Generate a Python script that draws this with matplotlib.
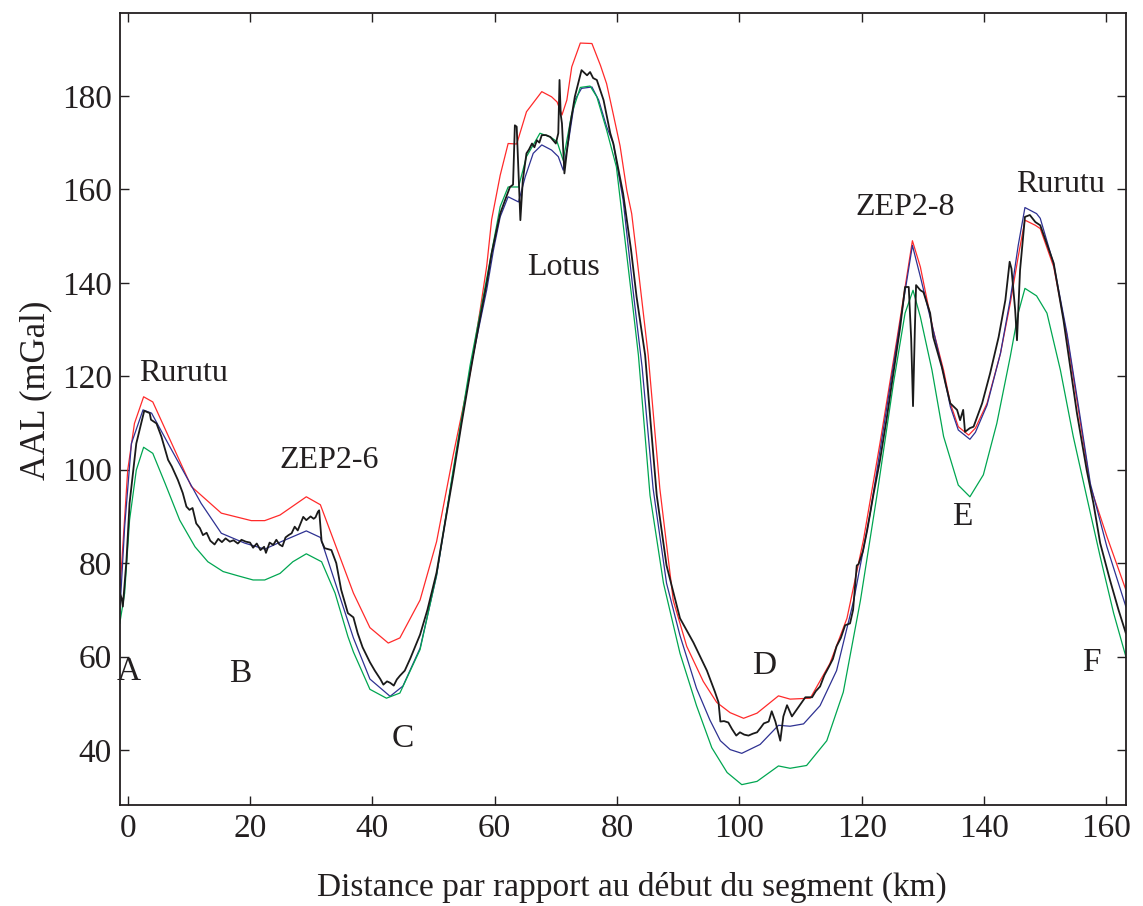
import matplotlib
matplotlib.use("Agg")
import matplotlib.pyplot as plt

plt.rcParams['font.family'] = ['Liberation Serif', 'DejaVu Serif']

# -------------------------------------------------------
# DATA
# -------------------------------------------------------

red_x = [-1.3, 0.0, 1.1, 2.6, 4.1, 10.4, 15.3, 20.2, 22.4, 24.9, 29.2, 31.5,
         36.9, 39.6, 42.6, 44.5, 47.8, 50.5, 53.2, 56.0, 57.6, 58.7, 59.5,
         60.9, 62.2, 63.6, 65.2, 67.7, 69.3, 70.2, 71.0, 71.8, 72.6, 74.0,
         75.9, 77.3, 78.3, 79.4, 80.5, 81.6, 82.4, 83.2, 85.1, 87.0, 89.2,
         91.4, 94.1, 96.3, 98.5, 100.7, 102.9, 106.4, 108.3, 111.6, 114.8,
         117.6, 120.3, 123.0, 125.8, 128.3, 129.6, 130.7, 131.7, 133.4, 134.5,
         135.8, 137.5, 138.6, 140.5, 142.7, 144.3, 145.6, 146.7, 148.4, 149.2,
         151.4, 153.6, 155.7, 157.4, 160.1, 163.2]
red_y = [73.5, 99.9, 109.9, 115.6, 114.5, 96.4, 90.7, 89.1, 89.1, 90.3, 94.2, 92.5,
         73.6, 66.2, 62.9, 64.0, 72.1, 84.6, 103.0, 120.7, 134.0, 143.6, 153.5,
         163.0, 169.8, 169.7, 176.6, 180.9, 179.8, 178.7, 175.9, 179.1, 186.2, 191.3,
         191.2, 186.5, 182.6, 176.0, 169.3, 159.8, 154.8, 146.0, 124.5, 96.0, 72.0,
         62.2, 54.7, 50.2, 48.0, 46.8, 47.9, 51.6, 50.9, 51.1, 58.5,
         68.2, 85.0, 105.7, 128.2, 149.0, 143.4, 136.3, 129.9, 121.3, 114.2,
         109.2, 107.4, 108.9, 114.2, 124.9, 135.6, 145.6, 153.4, 152.3, 151.6,
         143.4, 128.4, 110.6, 96.4, 85.7, 74.3]

blue_x = [-1.3, -0.5, 0.6, 2.5, 3.9, 6.6, 9.3, 12.0, 15.3, 19.1, 22.4, 25.1, 29.2,
          31.5, 36.9, 39.6, 42.9, 45.0, 47.8, 50.5, 53.2, 56.0, 58.7, 59.8, 60.9,
          62.2, 63.9, 65.0, 66.3, 67.7, 69.3, 70.4, 71.2, 72.1, 73.1, 74.2, 75.9,
          77.0, 78.3, 79.4, 81.0, 82.7, 84.1, 85.9, 88.1, 90.3, 93.0, 95.2, 96.9,
          98.5, 100.4, 103.4, 106.4, 108.3, 110.5, 113.2, 115.9, 118.7, 121.4,
          124.1, 126.8, 128.3, 129.6, 131.7, 133.4, 134.5, 135.8, 137.7, 138.6,
          140.5, 142.7, 144.3, 145.6, 146.7, 148.6, 149.2, 151.4, 153.6, 155.7,
          157.4, 160.1, 163.2]
blue_y = [69.3, 87.8, 105.6, 112.8, 112.1, 105.6, 99.2, 92.8, 86.4, 84.3, 83.0, 84.6, 86.9,
          85.5, 64.0, 55.2, 51.5, 53.7, 61.8, 77.3, 99.4, 121.5, 138.5, 147.0, 154.1,
          158.4, 157.3, 162.7, 167.7, 169.5, 168.4, 167.0, 164.1, 170.5, 179.1, 181.6, 181.9,
          179.1, 173.4, 169.8, 157.7, 137.5, 122.0, 96.0, 75.7, 64.5, 53.2, 46.4, 42.0,
          40.1, 39.3, 41.2, 45.3, 45.1, 45.6, 49.5, 57.0, 72.0, 90.7,
          113.2, 135.7, 148.0, 141.3, 129.9, 120.5, 113.5, 108.5, 106.5, 108.0,
          113.8, 124.9, 136.5, 148.0, 156.1, 154.8, 153.8, 144.0, 129.0, 111.5,
          97.0, 83.5, 70.7]

green_x = [-1.3, -0.5, 0.3, 1.4, 2.6, 4.1, 6.1, 8.5, 11.0, 13.1, 15.6, 18.0, 20.5,
           22.4, 24.9, 27.0, 29.2, 31.7, 33.9, 36.0, 36.9, 39.6, 42.3, 44.5, 47.8,
           50.5, 53.2, 56.0, 58.2, 60.9, 62.2, 63.9, 65.2, 67.4, 69.1, 70.2, 71.2,
           72.6, 74.0, 75.6, 76.7, 78.3, 79.9, 82.4, 83.5, 85.4, 87.6, 90.3, 93.0,
           95.5, 98.0, 100.4, 102.9, 106.4, 108.3, 111.0, 114.3, 117.0, 119.8,
           122.5, 125.2, 127.1, 128.4, 129.6, 131.5, 133.4, 135.8, 137.7, 139.9,
           142.1, 144.3, 145.6, 146.7, 148.6, 150.3, 152.5, 154.6, 156.8, 159.0,
           161.2, 163.2]
green_y = [67.1, 73.6, 89.2, 99.9, 104.8, 103.5, 97.1, 89.2, 83.5, 80.3, 78.2, 77.3, 76.4,
           76.4, 77.8, 80.3, 82.0, 80.3, 73.6, 64.3, 61.0, 53.0, 51.1, 52.2, 61.5,
           77.5, 99.8, 122.5, 137.5, 156.3, 160.5, 160.5, 167.0, 172.0, 171.2, 170.2, 166.2,
           176.2, 181.8, 182.1, 179.8, 172.7, 164.8, 137.0, 124.5, 94.5, 75.7, 60.7, 49.5,
           40.5, 35.2, 32.6, 33.3, 36.6, 36.1, 36.7, 42.0, 52.4, 72.0,
           94.5, 118.5, 133.5, 138.4, 132.7, 121.3, 107.1, 96.7, 94.2, 98.9,
           109.9, 124.2, 133.5, 138.8, 137.2, 133.5, 121.3, 107.1, 94.2, 81.4,
           69.3, 60.0]

black_x = [-1.3, -1.0, -0.8, -0.2, 0.3, 1.4, 2.7, 3.6, 3.8, 4.7, 5.5, 6.6, 7.2, 8.2,
           9.0, 9.6, 10.1, 10.6, 11.2, 11.8, 12.3, 12.9, 13.5, 14.2, 14.8, 15.4,
           16.0, 16.7, 17.3, 18.0, 18.6, 19.3, 20.0, 20.5, 21.1, 21.7, 22.3, 22.6,
           23.2, 23.8, 24.3, 24.8, 25.3, 25.8, 26.3, 26.8, 27.3, 27.8, 28.3, 28.7,
           29.2, 29.9, 30.4, 30.7, 31.1, 31.3, 31.7, 32.2, 33.3, 34.1, 34.9, 36.0,
           36.9, 37.6, 38.4, 39.6, 40.4, 41.3, 41.8, 42.4, 42.9, 43.5, 44.0, 44.5,
           45.3, 46.2, 47.8, 49.0, 50.5, 51.8, 53.2, 54.6, 56.0, 57.4, 58.7, 59.5,
           60.9, 61.7, 62.5, 63.0, 63.3, 63.6, 64.0, 64.2, 64.6, 65.2, 65.6, 66.1,
           66.5, 66.9, 67.3, 67.7, 68.4, 69.1, 70.0, 70.4, 70.6, 70.8, 71.0, 71.4,
           71.8, 72.3, 73.1, 74.2, 75.1, 75.6, 76.1, 76.7, 77.8, 78.9, 79.4, 81.0,
           82.3, 83.2, 84.6, 85.5, 86.5, 88.1, 90.3, 92.5, 94.7, 96.0, 96.6, 96.9,
           97.5, 98.2, 98.8, 99.5, 100.1, 100.8, 101.5, 102.2, 102.9, 103.5, 104.0,
           104.8, 105.3, 105.9, 106.4, 106.7, 107.2, 107.8, 108.6, 109.4, 110.1,
           110.8, 111.9, 112.5, 113.2, 113.9, 114.6, 115.3, 115.9, 116.6, 117.3,
           118.1, 118.6, 119.2, 119.5, 120.2, 120.9, 121.9, 123.0, 124.1, 125.2,
           126.3, 127.1, 127.7, 128.1, 128.4, 128.7, 128.9, 129.6, 130.1, 131.2,
           131.7, 133.1, 133.7, 134.5, 135.6, 136.1, 136.6, 136.9, 137.7, 138.3,
           139.7, 141.0, 142.4, 143.5, 144.2, 144.5, 145.1, 145.4, 145.9, 146.7,
           147.5, 148.4, 149.2, 151.4, 153.0, 155.2, 156.8, 157.9, 159.0, 160.6,
           162.0, 163.2]
black_y = [73.6, 72.5, 70.7, 80.7, 92.8, 105.6, 112.6, 112.1, 110.7, 109.9, 107.1, 102.1, 100.7, 97.8,
           95.0, 92.1, 91.4, 91.8, 88.5, 87.5, 86.0, 86.5, 84.8, 84.0, 85.2, 84.5,
           85.3, 84.6, 84.9, 84.2, 85.0, 84.6, 84.4, 83.3, 84.2, 82.8, 83.5, 82.2,
           84.4, 83.9, 85.0, 84.0, 83.6, 85.5, 86.0, 86.4, 87.8, 87.0, 88.6, 89.9,
           89.2, 90.0, 89.5, 89.8, 91.0, 91.3, 84.7, 83.2, 82.8, 80.0, 74.3, 69.3,
           68.4, 65.0, 62.0, 58.8, 57.0, 55.2, 54.0, 54.7, 54.4, 53.8, 55.1, 55.9,
           57.0, 59.6, 64.7, 70.0, 78.0, 88.0, 98.6, 110.0, 120.7, 131.0, 139.9, 146.3,
           154.8, 157.7, 160.5, 161.0, 173.7, 173.4, 160.0, 153.4, 162.0, 167.7, 168.5, 169.8,
           169.0, 170.5, 170.0, 171.6, 171.6, 171.2, 169.8, 172.0, 183.4, 176.0, 174.1, 163.4,
           168.0, 173.4, 179.8, 185.5, 184.4, 185.1, 183.8, 183.4, 179.1, 172.0, 169.8, 159.1,
           147.0, 137.0, 124.5, 110.0, 94.5, 79.5, 68.2, 63.0, 57.0, 52.5, 50.2, 46.1,
           46.2, 45.9, 44.5, 43.1, 43.8, 43.3, 43.1, 43.5, 43.8, 44.8, 45.7,
           46.1, 48.3, 46.1, 43.5, 42.0, 47.2, 49.6, 47.2, 48.7, 50.0,
           51.3, 51.3, 52.6, 53.6, 56.0, 57.7, 59.5, 62.2, 64.0, 66.7,
           67.1, 70.0, 79.5, 79.8, 82.5, 87.0, 94.5, 102.0, 111.0, 120.7,
           130.5, 139.1, 139.1, 128.0, 113.6, 130.0, 139.5, 138.4, 138.0, 133.5,
           128.4, 122.0, 118.5, 114.2, 112.8, 110.6, 112.8, 108.1, 108.9, 109.2,
           114.2, 120.6, 128.4, 136.3, 144.5, 143.0, 134.2, 127.7, 142.7, 154.1,
           154.5, 153.0, 152.3, 144.2, 132.0, 112.1, 99.9, 92.8, 84.3, 76.4,
           70.0, 65.0]

feature_names = ["Rurutu", "ZEP2-6", "Lotus", "ZEP2-8", "Rurutu"]
feature_x = [9.2, 32.9, 71.3, 127.1, 152.5]
feature_y = [120.5, 102.0, 143.3, 156.1, 161.0]

point_names = ["A", "B", "C", "D", "E", "F"]
point_x = [0.2, 18.4, 44.9, 104.1, 136.4, 157.5]
point_y = [56.8, 56.4, 42.5, 58.0, 90.0, 58.6]

# -------------------------------------------------------
# PLOT
# -------------------------------------------------------

fig = plt.figure(figsize=(11.43, 9.06), dpi=100)
ax = fig.add_axes([0.105, 0.111, 0.880, 0.875])

ax.plot(red_x, red_y, color='#ff2a2a', lw=0.9)
ax.plot(blue_x, blue_y, color='#2e3192', lw=0.9)
ax.plot(green_x, green_y, color='#00a651', lw=0.9)
ax.plot(black_x, black_y, color='#1a1a1a', lw=1.3)

for name, x, y in zip(feature_names, feature_x, feature_y):
    ax.text(x, y, name, fontsize=23, ha='center', va='center', color='#231f20')

for name, x, y in zip(point_names, point_x, point_y):
    ax.text(x, y, name, fontsize=24, ha='center', va='center', color='#231f20')

ax.set_xlim(-1.26, 163.2)
ax.set_ylim(28.15, 197.8)
ax.set_xticks([0, 20, 40, 60, 80, 100, 120, 140, 160])
ax.set_yticks([40, 60, 80, 100, 120, 140, 160, 180])

ax.tick_params(direction='in', length=6.5, width=1, top=True, right=True,
               labelsize=24, colors='#231f20', pad=6)
for s in ax.spines.values():
    s.set_linewidth(1.3)
    s.set_color('#231f20')

ax.set_xlabel("Distance par rapport au début du segment (km)", fontsize=24,
              color='#231f20', labelpad=20)
ax.xaxis.label.set_x(0.509)
ax.set_ylabel("AAL (mGal)", fontsize=25, color='#231f20', labelpad=7)
ax.yaxis.label.set_y(0.524)

fig.savefig("out.png", dpi=100)
